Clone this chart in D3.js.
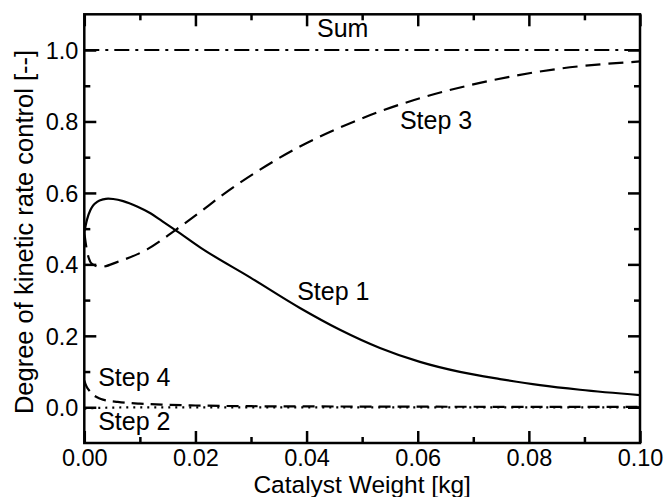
<!DOCTYPE html>
<html>
<head>
<meta charset="utf-8">
<script src="https://cdn.jsdelivr.net/npm/d3@7"></script>
<style>
  body { margin: 0; background: #fff; }
  text { font-family: "Liberation Sans", Arial, Helvetica, sans-serif; fill: #000; }
</style>
</head>
<body>
<div class="chart"></div>
<script>
// values
const step1X = [0, 0.0005, 0.0011, 0.0016, 0.0023, 0.0034, 0.0043, 0.0052, 0.007, 0.0095, 0.0119, 0.014, 0.0164, 0.0209, 0.0299, 0.0388, 0.046, 0.0532, 0.0604, 0.0676, 0.0748, 0.082, 0.0892, 0.1];
const step1Y = [0.49, 0.526, 0.552, 0.565, 0.575, 0.582, 0.584, 0.583, 0.577, 0.562, 0.543, 0.521, 0.496, 0.447, 0.363, 0.278, 0.217, 0.166, 0.127, 0.099, 0.079, 0.062, 0.049, 0.034];

const step3X = [0, 0.0003, 0.0008, 0.0015, 0.003, 0.006, 0.0113, 0.0164, 0.0209, 0.0245, 0.0317, 0.0388, 0.046, 0.0532, 0.0604, 0.0712, 0.0856, 0.1];
const step3Y = [0.49, 0.455, 0.418, 0.4, 0.393, 0.407, 0.442, 0.496, 0.547, 0.59, 0.666, 0.73, 0.783, 0.828, 0.865, 0.908, 0.948, 0.968];

const step4X = [0, 0.0004, 0.001, 0.0016, 0.0023, 0.003, 0.004, 0.006, 0.008, 0.01, 0.015, 0.02, 0.03, 0.05, 0.1];
const step4Y = [0.075, 0.058, 0.045, 0.035, 0.028, 0.023, 0.019, 0.015, 0.012, 0.01, 0.007, 0.005, 0.003, 0.002, 0.001];

const step2X = [0, 0.002, 0.005, 0.01, 0.02, 0.05, 0.1];
const step2Y = [-0.004, -0.002, -0.001, 0, 0, 0, 0];

const sumX = [0, 0.1];
const sumY = [1.0, 1.0];

const xMajor = [0, 0.02, 0.04, 0.06, 0.08, 0.10];
const xMinor = [0.01, 0.03, 0.05, 0.07, 0.09];
const yMajor = [0, 0.2, 0.4, 0.6, 0.8, 1.0];
const yMinor = [0.1, 0.3, 0.5, 0.7, 0.9];

const labels = [
  {text: "Sum", x: 0.0465, y: 1.036, anchor: "middle"},
  {text: "Step 3", x: 0.0568, y: 0.779, anchor: "start"},
  {text: "Step 1", x: 0.0383, y: 0.3, anchor: "start"},
  {text: "Step 4", x: 0.0025, y: 0.06, anchor: "start"},
  {text: "Step 2", x: 0.0025, y: -0.063, anchor: "start"}
];

const margin = {top: 14.3, left: 84.3, right: 27, bottom: 54};
const width = 667 - margin.left - margin.right,
    height = 497 - margin.top - margin.bottom;

const svg = d3.select('.chart').append('svg')
  .attr("width", 667)
  .attr("height", 497)
  .append("g")
  .attr("transform", `translate(${margin.left},${margin.top})`);

const xScale = d3.scaleLinear().domain([0, 0.1]).range([0, width]);
const yScale = d3.scaleLinear().domain([-0.1, 1.1]).range([height, 0]);

svg.append("clipPath").attr("id", "clip")
  .append("rect").attr("width", width).attr("height", height);

const line = d3.line()
  .x(d => xScale(d[0]))
  .y(d => yScale(d[1]))
  .curve(d3.curveMonotoneX);

const series = [
  {xs: sumX, ys: sumY, dash: "15,6,3,6"},
  {xs: step3X, ys: step3Y, dash: "15,8"},
  {xs: step1X, ys: step1Y, dash: null},
  {xs: step4X, ys: step4Y, dash: "12,7"},
  {xs: step2X, ys: step2Y, dash: "2,5"}
];

svg.append("g").attr("clip-path", "url(#clip)")
  .selectAll("path")
  .data(series)
  .enter()
  .append("path")
  .attr("fill", "none")
  .attr("stroke", "black")
  .attr("stroke-width", 2.2)
  .attr("stroke-dasharray", d => d.dash)
  .attr("d", d => line(d.xs.map((x, i) => [x, d.ys[i]])));

// ticks on all four sides, pointing in
function ticks(axis, vals, size, fmt) {
  return axis.tickValues(vals).tickSize(-size).tickSizeOuter(0).tickFormat(fmt);
}
const none = () => "";

svg.append("g").attr("class", "axis").attr("transform", `translate(0,${height})`)
  .call(ticks(d3.axisBottom(xScale), xMajor, 12, d3.format(".2f")));
svg.append("g").attr("class", "axis").attr("transform", `translate(0,${height})`)
  .call(ticks(d3.axisBottom(xScale), xMinor, 6, none));
svg.append("g").attr("class", "axis")
  .call(ticks(d3.axisTop(xScale), xMajor, 12, none));
svg.append("g").attr("class", "axis")
  .call(ticks(d3.axisTop(xScale), xMinor, 6, none));

svg.append("g").attr("class", "axis")
  .call(ticks(d3.axisLeft(yScale), yMajor, 12, d3.format(".1f")));
svg.append("g").attr("class", "axis")
  .call(ticks(d3.axisLeft(yScale), yMinor, 6, none));
svg.append("g").attr("class", "axis").attr("transform", `translate(${width},0)`)
  .call(ticks(d3.axisRight(yScale), yMajor, 12, none));
svg.append("g").attr("class", "axis").attr("transform", `translate(${width},0)`)
  .call(ticks(d3.axisRight(yScale), yMinor, 6, none));

const axisGroup = svg.selectAll(".axis");
axisGroup.select(".domain").remove();
axisGroup.selectAll(".tick line").attr("stroke", "black").attr("stroke-width", 2.5);
axisGroup.selectAll(".tick text")
  .attr("font-size", 23.5)
  .attr("font-family", "'Liberation Sans', Arial, sans-serif")
  .attr("fill", "black");

svg.selectAll(".axis").filter((d, i) => i === 0).selectAll(".tick text")
  .attr("y", 6.5).attr("dy", "0.71em");
svg.selectAll(".axis").filter((d, i) => i === 4).selectAll(".tick text")
  .attr("x", -6).attr("dy", "0.35em");

svg.append("rect")
  .attr("width", width)
  .attr("height", height)
  .attr("fill", "none")
  .attr("stroke", "black")
  .attr("stroke-width", 2.5);

svg.selectAll(".note")
  .data(labels)
  .enter()
  .append("text")
  .attr("class", "note")
  .attr("x", d => xScale(d.x))
  .attr("y", d => yScale(d.y))
  .attr("text-anchor", d => d.anchor)
  .attr("font-size", 25)
  .text(d => d.text);

svg.append("text")
  .attr("x", width / 2)
  .attr("y", height + 50.5)
  .attr("text-anchor", "middle")
  .attr("font-size", 24.5)
  .text("Catalyst Weight [kg]");

svg.append("text")
  .attr("transform", `translate(${33 - margin.left},${232 - margin.top}) rotate(-90)`)
  .attr("text-anchor", "middle")
  .attr("font-size", 25.5)
  .text("Degree of kinetic rate control [--]");
</script>
</body>
</html>
